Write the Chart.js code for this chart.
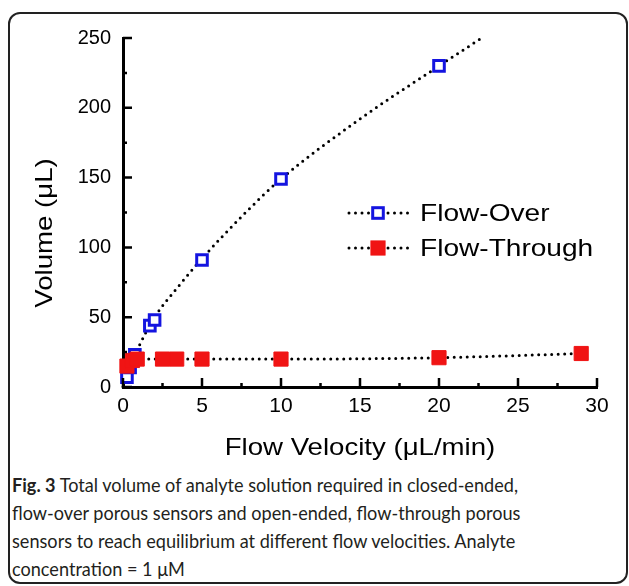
<!DOCTYPE html>
<html>
<head>
<meta charset="utf-8">
<script src="https://cdn.jsdelivr.net/npm/chart.js@4.4.1/dist/chart.umd.min.js"></script>
<style>
  body { margin: 0; background: #fff; width: 629px; height: 586px; overflow: hidden; position: relative; }
  #box { position: absolute; left: 8px; top: 12px; width: 616px; height: 568px; border: 2px solid #222; border-radius: 12px; }
  #wrap { position: absolute; left: 0; top: 0; width: 629px; height: 470px; }
  #caption { position: absolute; left: 12px; top: 471px; font-family: Lato, "Open Sans", sans-serif;
             font-size: 19px; line-height: 28px; color: #231f20; }
  #caption span { display: block; white-space: nowrap; transform-origin: 0 50%; width: max-content; }
</style>
</head>
<body>
<div id="box"></div>
<div id="wrap"><canvas id="myChart" width="629" height="470"></canvas></div>
<div id="caption">
  <span><b>Fig. 3</b> Total volume of analyte solution required in closed-ended,</span>
  <span>flow-over porous sensors and open-ended, flow-through porous</span>
  <span>sensors to reach equilibrium at different flow velocities. Analyte</span>
  <span>concentration = 1 μM</span>
</div>
<script>
// measured points
const overX = [0.25, 0.45, 0.75, 1.7, 2, 5, 10, 20];
const overY = [7, 14, 23, 44, 48, 91, 149, 230];
const throughX = [0.25, 0.6, 0.9, 2.5, 3.4, 5, 10, 20, 29];
const throughY = [15, 19, 20, 20, 20, 20, 20, 21, 24];

// dotted guide curves
const overFitX = [0, 0.5, 1, 2, 3.5, 5, 7.5, 10, 15, 20, 22.7];
const overFitY = [0, 16, 29, 50, 72, 92, 122, 149, 192, 230, 250];
const throughFitX = [0, 1, 5, 10, 20, 29];
const throughFitY = [18, 20, 20, 20, 21, 24];

// axis ticks
const xTicks = [0, 5, 10, 15, 20, 25, 30];
const xMinor = [2.5, 7.5, 12.5, 17.5, 22.5, 27.5];
const yTicks = [0, 50, 100, 150, 200, 250];
const yMinor = [25, 75, 125, 175, 225];

const blue = '#1414e0';
const red = '#f01414';
const font = "'Liberation Sans', Arial, sans-serif";

const pts = (xs, ys) => xs.map((v, i) => ({ x: v, y: ys[i] }));

// squeeze caption lines to the printed width
const capLines = document.querySelectorAll('#caption span');
const k = 506 / capLines[0].getBoundingClientRect().width;
capLines.forEach(el => { el.style.transform = 'scaleX(' + k + ')'; });

function wideText(ctx, txt, x, y, rot, sx) {
    ctx.save();
    ctx.translate(x, y);
    ctx.rotate(rot);
    ctx.scale(sx, 1);
    ctx.fillText(txt, 0, 0);
    ctx.restore();
}

const decor = {
    id: 'decor',
    afterDraw(chart) {
        const { ctx, chartArea: a, scales: { x, y } } = chart;
        ctx.save();
        ctx.strokeStyle = '#000';
        ctx.lineWidth = 2.5;
        ctx.beginPath();
        xTicks.forEach(v => { const px = x.getPixelForValue(v); ctx.moveTo(px, a.bottom); ctx.lineTo(px, a.bottom - 9); });
        xMinor.forEach(v => { const px = x.getPixelForValue(v); ctx.moveTo(px, a.bottom); ctx.lineTo(px, a.bottom - 4); });
        yTicks.forEach(v => { const py = y.getPixelForValue(v); ctx.moveTo(a.left, py); ctx.lineTo(a.left + 9, py); });
        yMinor.forEach(v => { const py = y.getPixelForValue(v); ctx.moveTo(a.left, py); ctx.lineTo(a.left + 4, py); });
        ctx.stroke();

        // axis titles
        ctx.fillStyle = '#000';
        ctx.font = '24px ' + font;
        ctx.textAlign = 'center';
        ctx.textBaseline = 'middle';
        wideText(ctx, 'Flow Velocity (μL/min)', (a.left + a.right) / 2, 448, 0, 1.15);
        wideText(ctx, 'Volume (μL)', 45, 233, -Math.PI / 2, 1.15);

        // legend
        const rows = [
            { label: 'Flow-Over', y: 213, ds: chart.data.datasets[1] },
            { label: 'Flow-Through', y: 248, ds: chart.data.datasets[0] },
        ];
        rows.forEach(r => {
            ctx.save();
            ctx.strokeStyle = '#000';
            ctx.lineWidth = 3;
            ctx.lineCap = 'round';
            ctx.setLineDash([0, 6.5]);
            ctx.beginPath();
            ctx.moveTo(349, r.y);
            ctx.lineTo(408, r.y);
            ctx.stroke();
            ctx.restore();
            ctx.save();
            ctx.fillStyle = r.ds.backgroundColor;
            ctx.strokeStyle = r.ds.borderColor;
            ctx.lineWidth = r.ds.borderWidth;
            const s = r.ds.pointRadius * Math.SQRT1_2;
            ctx.fillRect(378 - s, r.y - s, 2 * s, 2 * s);
            ctx.strokeRect(378 - s, r.y - s, 2 * s, 2 * s);
            ctx.restore();
            ctx.textAlign = 'left';
            wideText(ctx, r.label, 420, r.y + 1, 0, 1.17);
        });
        ctx.restore();
    }
};

const ctx = document.getElementById('myChart').getContext('2d');

const myChart = new Chart(ctx, {
    type: 'scatter',
    data: {
        datasets: [
            {
                label: 'Flow-Through',
                data: pts(throughX, throughY),
                pointStyle: 'rect',
                pointRadius: 10,
                backgroundColor: red,
                borderColor: red,
                borderWidth: 1,
                clip: false,
                order: 0,
            },
            {
                label: 'Flow-Over',
                data: pts(overX, overY),
                pointStyle: 'rect',
                pointRadius: 7.5,
                backgroundColor: '#fff',
                borderColor: blue,
                borderWidth: 3,
                clip: false,
                order: 1,
            },
            {
                label: 'over fit',
                data: pts(overFitX, overFitY),
                showLine: true,
                pointRadius: 0,
                borderColor: '#000',
                borderWidth: 3,
                borderDash: [0, 6.5],
                borderCapStyle: 'round',
                cubicInterpolationMode: 'monotone',
                clip: false,
                order: 2,
            },
            {
                label: 'through fit',
                data: pts(throughFitX, throughFitY),
                showLine: true,
                pointRadius: 0,
                borderColor: '#000',
                borderWidth: 3,
                borderDash: [0, 6.5],
                borderCapStyle: 'round',
                cubicInterpolationMode: 'monotone',
                clip: false,
                order: 2,
            },
        ],
    },
    options: {
        responsive: false,
        animation: false,
        layout: { padding: { left: 0, top: 38, right: 32, bottom: 0 } },
        plugins: { legend: { display: false }, tooltip: { enabled: false } },
        scales: {
            x: {
                type: 'linear',
                min: 0,
                max: 30,
                afterBuildTicks: s => { s.ticks = xTicks.map(v => ({ value: v })); },
                afterFit: s => { s.height = 83; },
                grid: { display: false, drawTicks: false },
                border: { display: true, color: '#000', width: 3 },
                ticks: { color: '#000', font: { family: font, size: 21 }, padding: 7, maxRotation: 0 },
            },
            y: {
                type: 'linear',
                min: 0,
                max: 250,
                afterBuildTicks: s => { s.ticks = yTicks.map(v => ({ value: v })); },
                afterFit: s => { s.width = 123; },
                grid: { display: false, drawTicks: false },
                border: { display: true, color: '#000', width: 3 },
                ticks: { color: '#000', font: { family: font, size: 20 }, padding: 12 },
            },
        },
    },
    plugins: [decor],
});
</script>
</body>
</html>
